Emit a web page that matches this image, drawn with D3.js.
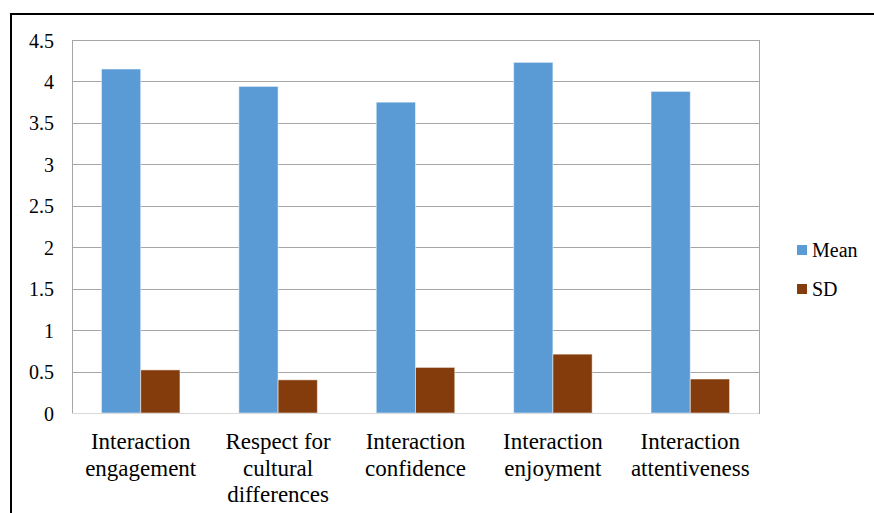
<!DOCTYPE html>
<html>
<head>
<meta charset="utf-8">
<script src="https://cdn.jsdelivr.net/npm/d3@7/dist/d3.min.js"></script>
<style>
html,body{margin:0;padding:0;background:#fff;}
</style>
</head>
<body>
<svg id="fig" width="874" height="513" style="display:block"></svg>
<script>
const categories = [
  ["Interaction","engagement"],
  ["Respect for","cultural","differences"],
  ["Interaction","confidence"],
  ["Interaction","enjoyment"],
  ["Interaction","attentiveness"]
];
const seriesNames = ["Mean","SD"];
const meanValues = [4.15, 3.94, 3.75, 4.23, 3.88];
const sdValues = [0.52, 0.40, 0.55, 0.71, 0.41];
const yTicks = [0,0.5,1,1.5,2,2.5,3,3.5,4,4.5];
const colors = ["#5B9BD5","#843C0C"];

const FONT = "Liberation Serif";
const svg = d3.select("#fig");
const W = 874, H = 513;
const plot = {left:72, top:40, right:759, bottom:413};

function serif(sel, size){
  sel.attr("font-family", FONT).attr("font-size", size).attr("fill","#000")
    .each(function(){
      this.style.setProperty("font-family", "'Liberation Serif', 'Times New Roman', serif", "important");
      this.style.setProperty("font-size", size + "px", "important");
    });
  return sel;
}

// outer frame
svg.append("line").attr("x1",11).attr("x2",W).attr("y1",14).attr("y2",14)
  .attr("stroke","#000").attr("stroke-width",2);
svg.append("line").attr("x1",11).attr("x2",11).attr("y1",13).attr("y2",H)
  .attr("stroke","#000").attr("stroke-width",2);

const x0 = d3.scaleBand().domain(d3.range(categories.length))
  .range([plot.left, plot.right]).paddingInner(0).paddingOuter(0);
const bw = x0.bandwidth();
const barW = bw / 3.5;
const x1 = d3.scaleBand().domain(d3.range(2)).range([0, 2*barW]);
const y = d3.scaleLinear().domain([0,4.5]).range([plot.bottom, plot.top]);

// gridlines + y labels
const yAxis = d3.axisLeft(y).tickValues(yTicks).tickSize(-(plot.right-plot.left))
  .tickFormat(d3.format("~g")).tickPadding(18);
const gy = svg.append("g").attr("transform",`translate(${plot.left},0)`).call(yAxis)
  .attr("font-family", FONT).attr("font-size", 20);
gy.select(".domain").remove();
gy.selectAll(".tick line").attr("stroke","#a6a6a6").attr("stroke-width",1)
  .attr("shape-rendering","crispEdges");
serif(gy.selectAll(".tick text"), 20).attr("dy","0.35em");

// plot area frame
svg.append("rect").attr("x",plot.left).attr("y",plot.top)
  .attr("width",plot.right-plot.left).attr("height",plot.bottom-plot.top)
  .attr("fill","none").attr("stroke","#a6a6a6").attr("stroke-width",1)
  .attr("shape-rendering","crispEdges");

// bars
const data = categories.map((c,i)=>({i, vals:[meanValues[i], sdValues[i]]}));
const groups = svg.append("g").selectAll("g").data(data).join("g")
  .attr("transform",d=>`translate(${x0(d.i) + (bw - 2*barW)/2},0)`);
groups.selectAll("rect").data(d=>d.vals.map((v,k)=>({v,k}))).join("rect")
  .attr("x",d=>x1(d.k)).attr("width",barW)
  .attr("y",d=>y(d.v)).attr("height",d=>y(0)-y(d.v))
  .attr("fill",d=>colors[d.k])
  .attr("stroke","rgba(255,255,255,0.5)").attr("stroke-width",1);

// bottom axis line
svg.append("line").attr("x1",plot.left).attr("x2",plot.right)
  .attr("y1",plot.bottom+0.5).attr("y2",plot.bottom+0.5)
  .attr("stroke","#d9d9d9").attr("stroke-width",1);

// x labels
const xl = svg.append("g");
categories.forEach((lines,i)=>{
  const t = xl.append("text").attr("text-anchor","middle")
    .attr("x", x0(i)+bw/2).attr("y", 449);
  serif(t, 23);
  lines.forEach((ln,j)=>{
    t.append("tspan").attr("x", x0(i)+bw/2).attr("dy", j===0?0:26.7).text(ln);
  });
});

// legend
const leg = svg.append("g");
seriesNames.forEach((s,k)=>{
  const cy = 250 + k*39;
  leg.append("rect").attr("x",797).attr("y",cy-5).attr("width",10).attr("height",10)
    .attr("fill",colors[k]);
  const t = leg.append("text").attr("x",812).attr("y",cy).attr("dy","0.35em").text(s);
  serif(t, 20);
});
</script>
</body>
</html>
